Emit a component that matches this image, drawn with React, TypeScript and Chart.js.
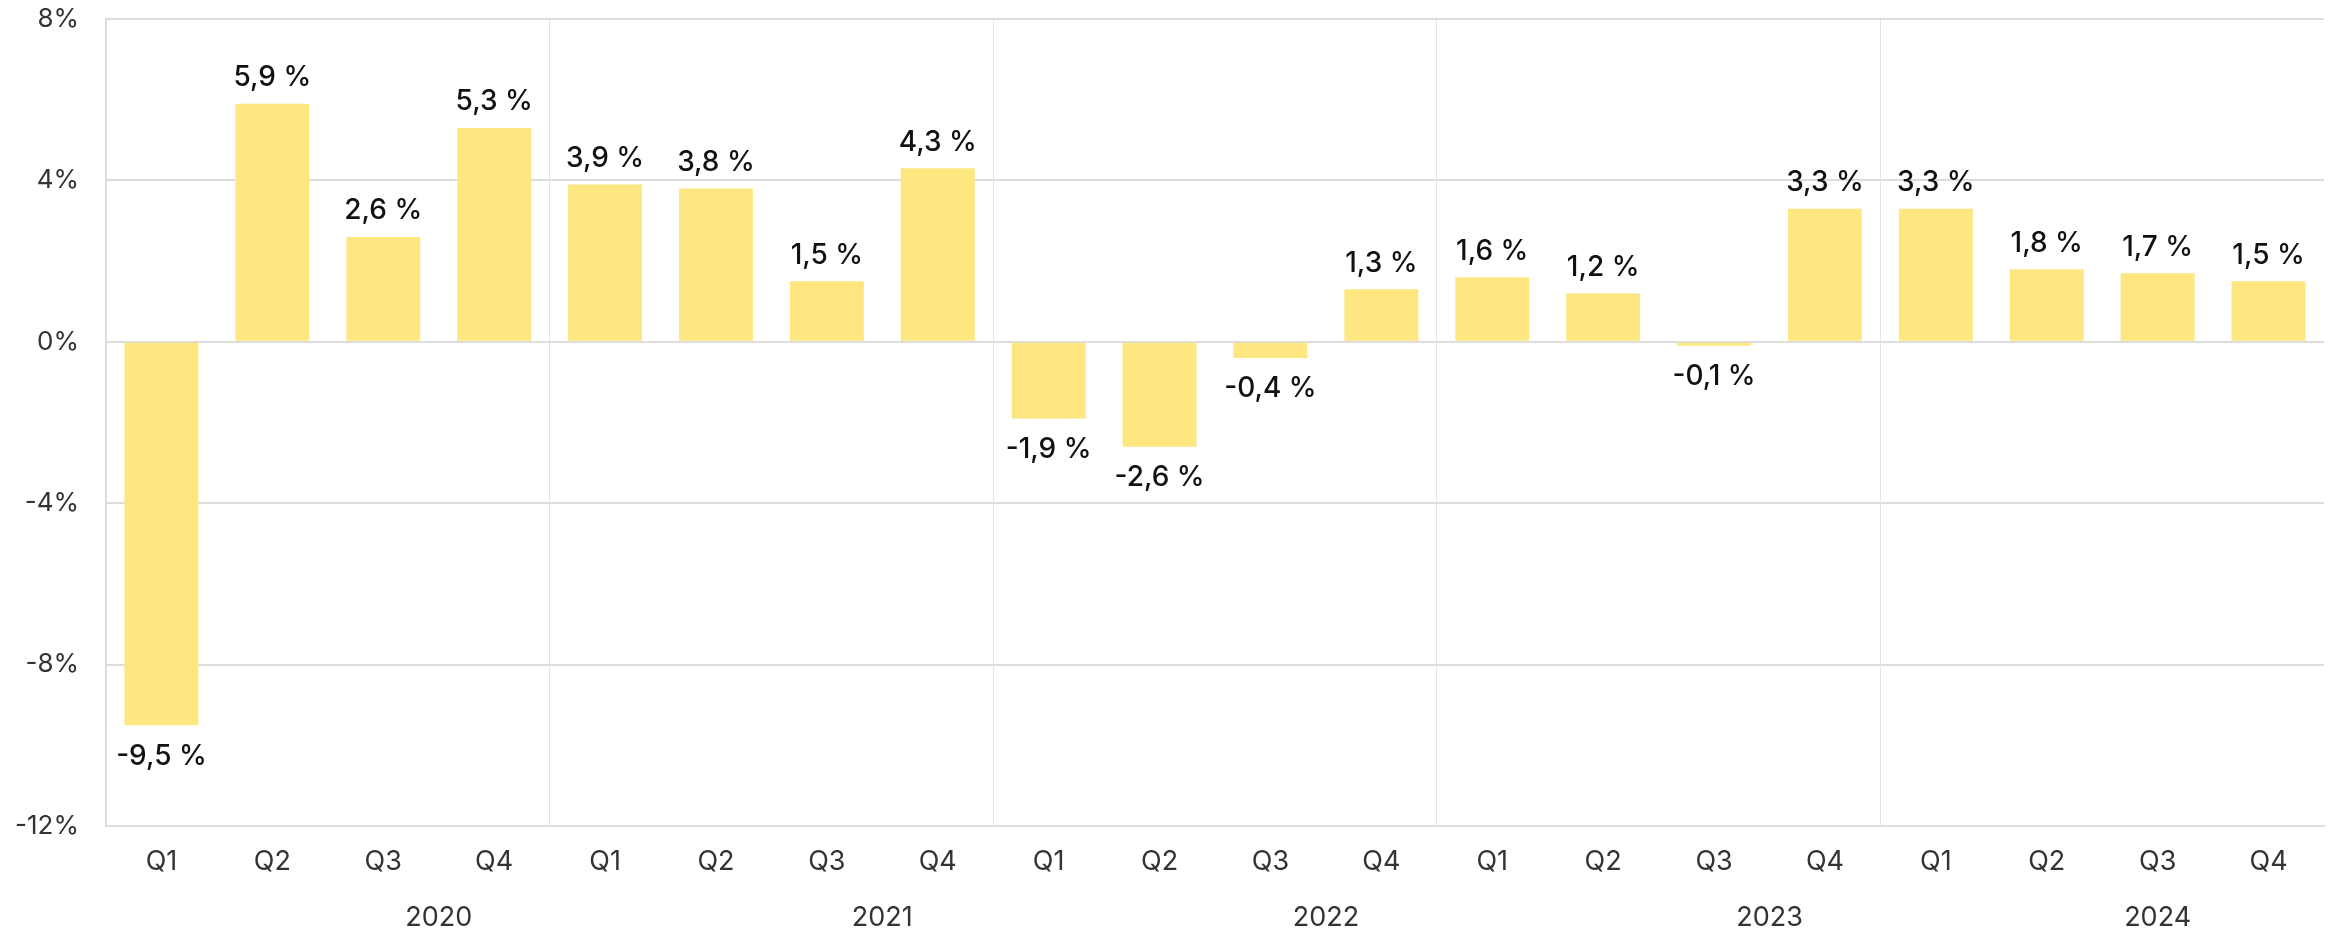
import React, { useEffect, useRef } from "react";
import { Chart, registerables } from "chart.js";

Chart.register(...registerables);

const quarters = ["Q1", "Q2", "Q3", "Q4", "Q1", "Q2", "Q3", "Q4", "Q1", "Q2", "Q3", "Q4", "Q1", "Q2", "Q3", "Q4", "Q1", "Q2", "Q3", "Q4"];
const years = ["2020", "2021", "2022", "2023", "2024"];
const growth = [-9.5, 5.9, 2.6, 5.3, 3.9, 3.8, 1.5, 4.3, -1.9, -2.6, -0.4, 1.3, 1.6, 1.2, -0.1, 3.3, 3.3, 1.8, 1.7, 1.5];
const yearLabelOffsets = [2.5, 2.5, 2.5, 2.5, 2];
const yTicks = [-12, -8, -4, 0, 4, 8];

const FONT = "Inter, 'Noto Sans', sans-serif";

const fmt = (v: number) => v.toFixed(1).replace(".", ",") + " %";

const labelPlugin = {
  id: "valueLabels",
  afterDatasetsDraw(chart: any) {
    const ctx = chart.ctx;
    const meta = chart.getDatasetMeta(0);
    ctx.save();
    ctx.font = `500 28px ${FONT}`;
    ctx.fillStyle = "#111111";
    ctx.textAlign = "center";
    meta.data.forEach((bar: any, i: number) => {
      const v = growth[i];
      if (v >= 0) {
        ctx.textBaseline = "bottom";
        ctx.fillText(fmt(v), bar.x, bar.y - 12);
      } else {
        ctx.textBaseline = "top";
        ctx.fillText(fmt(v), bar.x, bar.y + 17);
      }
    });
    ctx.restore();
  },
  afterDraw(chart: any) {
    const ctx = chart.ctx;
    const xs = chart.scales.x;
    const ys = chart.scales.y;
    ctx.save();
    ctx.fillStyle = "#333333";
    ctx.textBaseline = "middle";
    ctx.font = `26px ${FONT}`;
    ctx.textAlign = "right";
    yTicks.forEach((t) => {
      ctx.fillText(`${t}%`, ys.right - 27, ys.getPixelForValue(t));
    });
    ctx.font = `27px ${FONT}`;
    ctx.textAlign = "center";
    years.forEach((y, i) => {
      const x = xs.getPixelForValue(i * 4 + yearLabelOffsets[i]);
      ctx.fillText(y, x, 918);
    });
    ctx.restore();
  },
};

export default function App() {
  const ref = useRef<HTMLCanvasElement | null>(null);
  useEffect(() => {
    document.body.style.margin = "0";
    const canvas = ref.current!;
    const chart = new Chart(canvas, {
      type: "bar",
      data: {
        labels: quarters,
        datasets: [
          {
            data: growth,
            backgroundColor: "#FEE781",
            borderWidth: 0,
            barPercentage: 0.667,
            categoryPercentage: 1,
          },
        ],
      },
      options: {
        responsive: false,
        animation: false,
        devicePixelRatio: 1,
        layout: { padding: { left: 0, right: 6, top: 19, bottom: 0 } },
        plugins: { legend: { display: false }, tooltip: { enabled: false } },
        scales: {
          x: {
            offset: true,
            grid: {
              offset: true,
              drawTicks: false,
              color: (c: any) => (c.index % 4 === 0 ? "#e3e3e3" : "rgba(0,0,0,0)"),
              lineWidth: (c: any) => (c.index === 20 ? 2 : 1),
            },
            border: { display: true, color: "#dddddd", width: 2 },
            ticks: {
              color: "#333333",
              font: { family: FONT, size: 27 },
              padding: 20,
              maxRotation: 0,
              autoSkip: false,
            },
            afterFit: (s: any) => {
              s.height = 105;
            },
          },
          y: {
            min: -12,
            max: 8,
            afterBuildTicks: (s: any) => {
              s.ticks = yTicks.map((v) => ({ value: v }));
            },
            grid: { drawTicks: false, color: "#dddddd", lineWidth: 2 },
            border: { display: true, color: "#dddddd", width: 2 },
            ticks: { display: false },
            afterFit: (s: any) => {
              s.width = 106;
            },
          },
        },
      },
      plugins: [labelPlugin],
    });
    return () => chart.destroy();
  }, []);
  return (
    <div style={{ width: 2330, height: 931, background: "#ffffff" }}>
      <canvas ref={ref} width={2330} height={931} style={{ display: "block" }} />
    </div>
  );
}
